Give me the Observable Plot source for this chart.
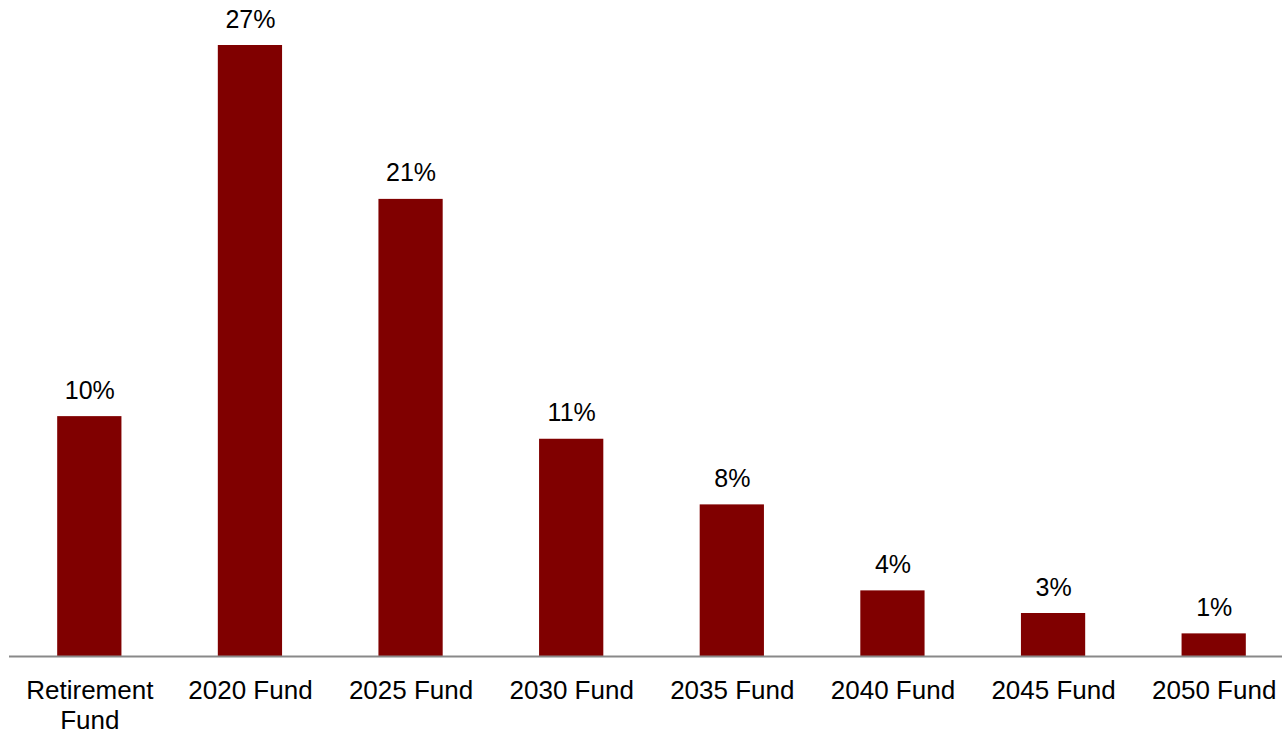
<!DOCTYPE html>
<html>
<head>
<meta charset="utf-8">
<script src="https://cdn.jsdelivr.net/npm/d3@7"></script>
<script src="https://cdn.jsdelivr.net/npm/@observablehq/plot@0.6"></script>
<style>
  html, body { margin: 0; padding: 0; background: #fff; }
  #chart svg { display: block; }
</style>
</head>
<body>
<div id="chart"></div>
<script>
// Categories (funds)
const categories = ["Retirement Fund", "2020 Fund", "2025 Fund", "2030 Fund", "2035 Fund", "2040 Fund", "2045 Fund", "2050 Fund"];
// Tick labels as shown (with line break)
const tickLabels = ["Retirement\nFund", "2020 Fund", "2025 Fund", "2030 Fund", "2035 Fund", "2040 Fund", "2045 Fund", "2050 Fund"];
// Bar heights (percent)
const values = [10.6, 27.0, 20.2, 9.6, 6.7, 2.9, 1.9, 1.0];
// Value labels printed above the bars
const valueLabels = ["10%", "27%", "21%", "11%", "8%", "4%", "3%", "1%"];

const data = categories.map((c, i) => ({
  cat: c,
  value: values[i],
  label: valueLabels[i],
  tick: tickLabels[i]
}));

const W = 1282, H = 732;
const chart = Plot.plot({
  width: W,
  height: H,
  marginLeft: 9,
  marginRight: 0,
  marginTop: 45,
  marginBottom: 76,
  style: { fontFamily: "'Liberation Sans', Arial, sans-serif", background: "#fff" },
  x: { domain: categories, range: [9, 1294], paddingInner: 0.6, paddingOuter: 0.3, round: false, axis: null },
  y: { domain: [0, 27], nice: false, axis: null },
  marks: [
    Plot.barY(data, { x: "cat", y: "value", fill: "#800000" }),
    Plot.ruleY([0], { stroke: "#898989", strokeWidth: 2 }),
    Plot.text(data, {
      x: "cat", y: "value", text: "label",
      lineAnchor: "bottom", dy: -18, fontSize: 25, fill: "#000"
    }),
    Plot.text(data, {
      x: "cat", y: () => 0, text: "tick",
      lineAnchor: "top", dy: 21, fontSize: 26, lineHeight: 1.15, fill: "#000"
    })
  ]
});
document.getElementById("chart").appendChild(chart);
</script>
</body>
</html>
